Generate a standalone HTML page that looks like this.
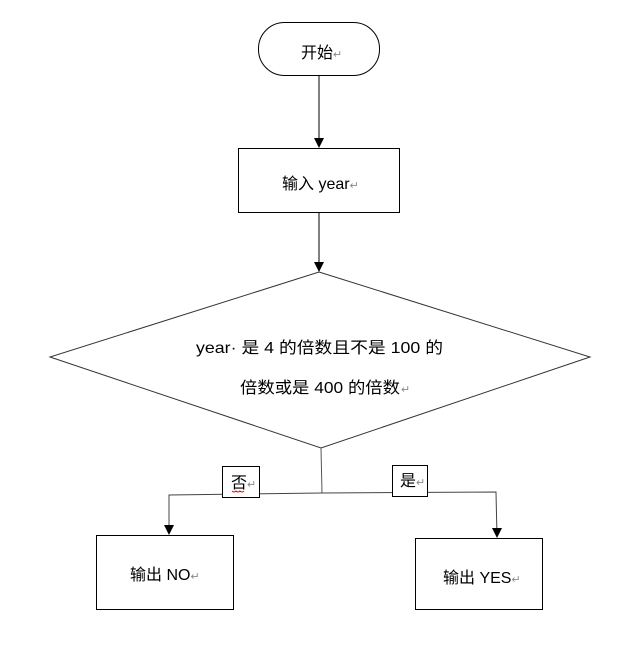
<!DOCTYPE html>
<html><head><meta charset="utf-8"><style>
body{margin:0;background:#fff;}
svg text{font-family:"Liberation Sans","Noto Sans CJK SC",sans-serif;font-size:16px;fill:#000;}
.r{font-size:11px;fill:#888;}
</style></head><body>
<svg width="620" height="641" viewBox="0 0 620 641" xmlns="http://www.w3.org/2000/svg">
<defs><marker id="a" markerWidth="10" markerHeight="10" refX="5" refY="9" orient="0" markerUnits="userSpaceOnUse"><path d="M0,0 L10,0 L5,10 z" fill="#000"/></marker></defs>
<g stroke="#000" stroke-width="1" fill="none">
<rect x="258.5" y="22.5" width="121" height="53" rx="26" ry="26"/>
<line x1="319" y1="76" x2="319" y2="147" marker-end="url(#a)"/>
<rect x="238.5" y="148.5" width="161" height="64"/>
<line x1="319" y1="213" x2="319" y2="271" marker-end="url(#a)"/>
<polygon points="319,272 590,357 321,448 50,357" stroke="#333"/>
<polyline points="321,448 322,493" stroke="#555"/>
<polyline points="322,493 169,495 169,534" marker-end="url(#a)" stroke="#444"/>
<polyline points="322,493 496,492 497,537" marker-end="url(#a)" stroke="#444"/>
<rect x="96.5" y="535.5" width="137" height="74"/>
<rect x="415.5" y="538.5" width="127" height="71"/>
<rect x="222.5" y="466.5" width="37" height="31" fill="#fff"/>
<rect x="392.5" y="465.5" width="35" height="31" fill="#fff"/>
</g>
<text x="301" y="58">开始<tspan class="r">↵</tspan></text>
<text x="282" y="189">输入 year<tspan class="r">↵</tspan></text>
<text x="196" y="353" textLength="247" lengthAdjust="spacingAndGlyphs">year· 是 4 的倍数且不是 100 的</text>
<text x="240" y="393" textLength="160" lengthAdjust="spacingAndGlyphs">倍数或是 400 的倍数</text>
<text x="401" y="393" class="r">↵</text>
<text x="231" y="488">否<tspan class="r">↵</tspan></text>
<path d="M232,491 q2,2 4,0 q2,2 4,0 q2,2 4,0" stroke="red" fill="none" stroke-width="1"/>
<text x="400" y="486">是<tspan class="r">↵</tspan></text>
<text x="130" y="580">输出 NO<tspan class="r">↵</tspan></text>
<text x="443" y="583">输出 YES<tspan class="r">↵</tspan></text>
</svg>
</body></html>
